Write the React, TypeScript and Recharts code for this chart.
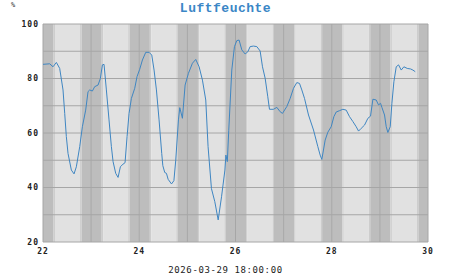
import React from 'react';
import { ComposedChart, Line, XAxis, YAxis, ReferenceArea, ReferenceLine } from 'recharts';

const times = [
  22.0, 22.139, 22.208, 22.278, 22.347, 22.416, 22.451, 22.485, 22.52, 22.589, 22.645, 22.693, 22.763, 22.818, 22.887, 22.936, 22.971,
  23.026, 23.074, 23.144, 23.192, 23.234, 23.268, 23.317, 23.372, 23.421, 23.456, 23.511, 23.56, 23.608, 23.664, 23.705, 23.747, 23.788, 23.837, 23.906, 23.954,
  24.01, 24.066, 24.135, 24.204, 24.26, 24.308, 24.357, 24.412, 24.467, 24.49, 24.53, 24.565, 24.6, 24.67, 24.72, 24.759, 24.814, 24.842, 24.897, 24.953,
  25.022, 25.105, 25.174, 25.244, 25.313, 25.382, 25.43, 25.5, 25.57, 25.64, 25.71, 25.78, 25.8, 25.83, 25.86, 25.923, 25.978,
  26.027, 26.075, 26.131, 26.2, 26.256, 26.304, 26.373, 26.443, 26.512, 26.561, 26.616, 26.671, 26.706, 26.789, 26.859, 26.928, 26.976,
  27.066, 27.136, 27.205, 27.274, 27.33, 27.378, 27.434, 27.517, 27.621, 27.711, 27.759, 27.794, 27.863, 27.919, 27.988,
  28.044, 28.092, 28.162, 28.231, 28.3, 28.369, 28.439, 28.508, 28.557, 28.612, 28.681, 28.751, 28.806, 28.855, 28.924, 28.972,
  29.014, 29.042, 29.097, 29.132, 29.166, 29.215, 29.25, 29.291, 29.34, 29.388, 29.444, 29.499, 29.568, 29.638, 29.686, 29.735,
];

const humidity = [
  85.2, 85.4, 84.3, 85.9, 83.7, 75.8, 67.2, 58.7, 52.5, 46.4, 45.0, 47.6, 55.0, 62.3, 68.4, 75.2, 75.8,
  75.4, 77.0, 77.6, 80.0, 85.0, 85.2, 75.8, 64.8, 55.0, 49.5, 45.2, 43.7, 47.6, 48.6, 49.1, 58.7, 67.2, 72.7, 76.4, 80.7,
  83.4, 86.8, 89.6, 89.6, 88.6, 83.1, 75.8, 64.8, 52.5, 48.0, 45.5, 45.2, 43.0, 41.3, 42.5, 50.1, 64.8, 69.3, 65.4, 77.6,
  81.9, 85.6, 87.0, 84.3, 79.4, 72.1, 55.0, 39.6, 34.8, 28.1, 36.6, 46.4, 51.9, 49.5, 61.0, 83.1, 91.7,
  93.9, 94.1, 90.5, 89.0, 89.8, 91.7, 91.9, 91.7, 90.1, 84.3, 80.1, 73.3, 68.7, 68.7, 69.4, 67.8, 67.2,
  69.7, 72.7, 76.4, 78.5, 78.2, 75.8, 72.7, 66.6, 61.1, 55.0, 51.9, 50.3, 57.4, 60.3, 62.3,
  66.0, 67.7, 68.2, 68.7, 68.4, 66.0, 64.2, 62.3, 60.7, 61.7, 62.9, 65.4, 66.2, 72.4, 72.1, 70.3,
  70.9, 69.4, 66.6, 62.3, 60.2, 62.3, 70.9, 78.8, 84.3, 85.0, 83.1, 84.3, 83.7, 83.5, 83.1, 82.5,
];

const xTicks = [22, 24, 26, 28, 30];
const yTicks = [20, 40, 60, 80, 100];
const yGrid = [20, 30, 40, 50, 60, 70, 80, 90, 100];
const xGrid = [22, 23, 24, 25, 26, 27, 28, 29, 30];
const days = [22, 23, 24, 25, 26, 27, 28, 29];
const dawnStart = 0.22;
const sunrise = 0.25;
const sunset = 0.77;
const duskEnd = 0.8;

const title = 'Luftfeuchte';
const unit = '%';
const timestamp = '2026-03-29 18:00:00';

const data = times.map((t, i) => ({ t, v: humidity[i] }));

const NIGHT = '#bdbdbd';
const TWILIGHT = '#cdcdcd';
const DAY = '#e1e1e1';
const GRID = '#a6a6a6';

const bands: { x1: number; x2: number; fill: string }[] = [];
days.forEach((d) => {
  bands.push({ x1: d, x2: d + dawnStart, fill: NIGHT });
  bands.push({ x1: d + dawnStart, x2: d + sunrise, fill: TWILIGHT });
  bands.push({ x1: d + sunrise, x2: d + sunset, fill: DAY });
  bands.push({ x1: d + sunset, x2: d + duskEnd, fill: TWILIGHT });
  bands.push({ x1: d + duskEnd, x2: d + 1, fill: NIGHT });
});

const tickStyle = {
  fontFamily: '"DejaVu Sans Mono", monospace',
  fontSize: 8,
  fontWeight: 'bold' as const,
  fill: '#222',
  letterSpacing: 1,
};

export default function App() {
  return (
    <div style={{ position: 'absolute', left: 0, top: 0, width: 451, height: 275, background: '#fff' }}>
      <ComposedChart width={451} height={275} data={data} margin={{ top: 24, right: 23, bottom: 0, left: 0 }}>
        <XAxis
          dataKey="t"
          type="number"
          domain={[22, 30]}
          ticks={xTicks}
          allowDataOverflow
          axisLine={false}
          tickLine={false}
          tickSize={6}
          tickMargin={0}
          height={33}
          tick={tickStyle}
        />
        <YAxis
          type="number"
          domain={[20, 100]}
          ticks={yTicks}
          allowDataOverflow
          axisLine={false}
          tickLine={false}
          tickSize={4}
          tickMargin={0}
          width={43}
          tick={tickStyle}
        />
        {bands.map((b, i) => (
          <ReferenceArea key={'b' + i} x1={b.x1} x2={b.x2} y1={20} y2={100} fill={b.fill} fillOpacity={1} stroke="none" />
        ))}
        {yGrid.map((y) => (
          <ReferenceLine key={'y' + y} y={y} stroke={GRID} strokeWidth={1} />
        ))}
        {xGrid.map((x) => (
          <ReferenceLine key={'x' + x} x={x} stroke={GRID} strokeWidth={1} />
        ))}
        <Line
          dataKey="v"
          type="linear"
          stroke="#3f86c2"
          strokeWidth={1}
          dot={false}
          isAnimationActive={false}
        />
      </ComposedChart>
      <svg width={451} height={275} style={{ position: 'absolute', left: 0, top: 0, pointerEvents: 'none' }}>
        <text
          x={225.5}
          y={12}
          textAnchor="middle"
          style={{ fontFamily: '"Liberation Mono", monospace', fontSize: 13, fontWeight: 'bold', fill: '#3a86c6', letterSpacing: 0.5 }}
        >
          {title}
        </text>
        <text x={13} y={7} textAnchor="middle" style={{ fontFamily: '"DejaVu Sans Mono", monospace', fontSize: 7, fill: '#333' }}>
          {unit}
        </text>
        <text
          x={225.5}
          y={273}
          textAnchor="middle"
          style={{ fontFamily: '"DejaVu Sans Mono", monospace', fontSize: 9, fill: '#222', letterSpacing: 0.6 }}
        >
          {timestamp}
        </text>
      </svg>
    </div>
  );
}
